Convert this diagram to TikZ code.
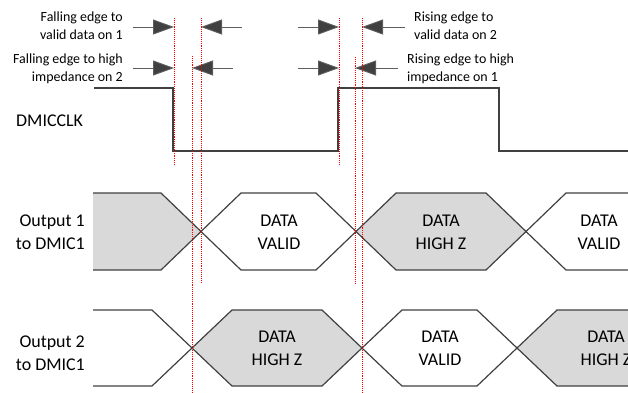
\documentclass[tikz,border=0pt]{standalone}
\usepackage{fontspec}
\setmainfont{Carlito}
\usetikzlibrary{arrows.meta}
\definecolor{wire}{HTML}{404040}
\definecolor{zgray}{HTML}{D9D9D9}
\begin{document}
\begin{tikzpicture}[x=1bp,y=-1bp,
    wave/.style={draw=wire,line width=1.2bp},
    clkline/.style={draw=wire,line width=1.6bp},
    marker/.style={red,densely dotted,line width=0.9bp},
    arr/.style={draw=wire!85,line width=0.9bp,-{Triangle[length=21bp,width=15bp,fill=wire]}},
    small/.style={font=\fontsize{14}{18}\selectfont,inner sep=0pt},
    big/.style={font=\fontsize{18}{23}\selectfont,inner sep=0pt,align=center}]
    \path[use as bounding box,clip] (0,0) rectangle (628,392);

    \node[small,anchor=east,align=right] (fv) at (123,26) {Falling edge to\\valid data on 1};
    \node[small,anchor=east,align=right] (fz) at (123,69) {Falling edge to high\\impedance on 2};
    \node[small,anchor=west,align=left] (rv) at (414,26) {Rising edge to\\valid data on 2};
    \node[small,anchor=west,align=left] (rz) at (407,69) {Rising edge to high\\impedance on 1};
    \node[big,anchor=west] (clk) at (16,121) {DMICCLK};
    \node[big,anchor=east,align=right] (o1) at (85,232) {Output 1\\to DMIC1};
    \node[big,anchor=east,align=right] (o2) at (85,353) {Output 2\\to DMIC1};

    \draw[clkline] (94,88) -- (173,88) -- (173,151) -- (338,151) -- (338,88) -- (499,88) -- (499,151) -- (628,151);

    \fill[zgray] (93,193) -- (161,193) -- (201,231.5) -- (161,270) -- (93,270) -- cycle;
    \fill[zgray] (356,231.5) -- (396,193) -- (486,193) -- (526,231.5) -- (486,270) -- (396,270) -- cycle;
    \draw[wave] (93,193) -- (161,193) -- (241,270) -- (316,270) -- (396,193) -- (486,193) -- (566,270) -- (628,270);
    \draw[wave] (93,270) -- (161,270) -- (241,193) -- (316,193) -- (396,270) -- (486,270) -- (566,193) -- (628,193);

    \fill[zgray] (192,348) -- (232,310) -- (322,310) -- (362,348) -- (322,386) -- (232,386) -- cycle;
    \fill[zgray] (517,348) -- (557,310) -- (640,310) -- (640,386) -- (557,386) -- cycle;
    \draw[wave] (93,310) -- (152,310) -- (232,386) -- (322,386) -- (402,310) -- (477,310) -- (557,386) -- (640,386);
    \draw[wave] (93,386) -- (152,386) -- (232,310) -- (322,310) -- (402,386) -- (477,386) -- (557,310) -- (640,310);

    \foreach \x/\y/\t [count=\i] in {279/232/VALID, 441/232/HIGH Z, 599/232/VALID, 277/348/HIGH Z, 440/348/VALID, 606/348/HIGH Z}
        \node[big] (d\i) at (\x,\y) {DATA\\\t};

    \foreach \s/\t/\y [count=\i] in {133/174/27, 242/201/27, 298/339/27, 405/362/27, 133/174/68, 233/192/68, 298/339/68, 398/355/68}
        {\coordinate (a\i) at (\s,\y); \coordinate (b\i) at (\t,\y); \draw[arr] (a\i) -- (b\i);}

    \foreach \x/\a/\b [count=\i] in {174/18/165, 201/18/283, 192/56/392, 339/18/165, 362/18/392, 355/57/283}
        {\coordinate (r\i a) at (\x,\a); \coordinate (r\i b) at (\x,\b); \draw[marker] (r\i a) -- (r\i b);}

\end{tikzpicture}
\end{document}
